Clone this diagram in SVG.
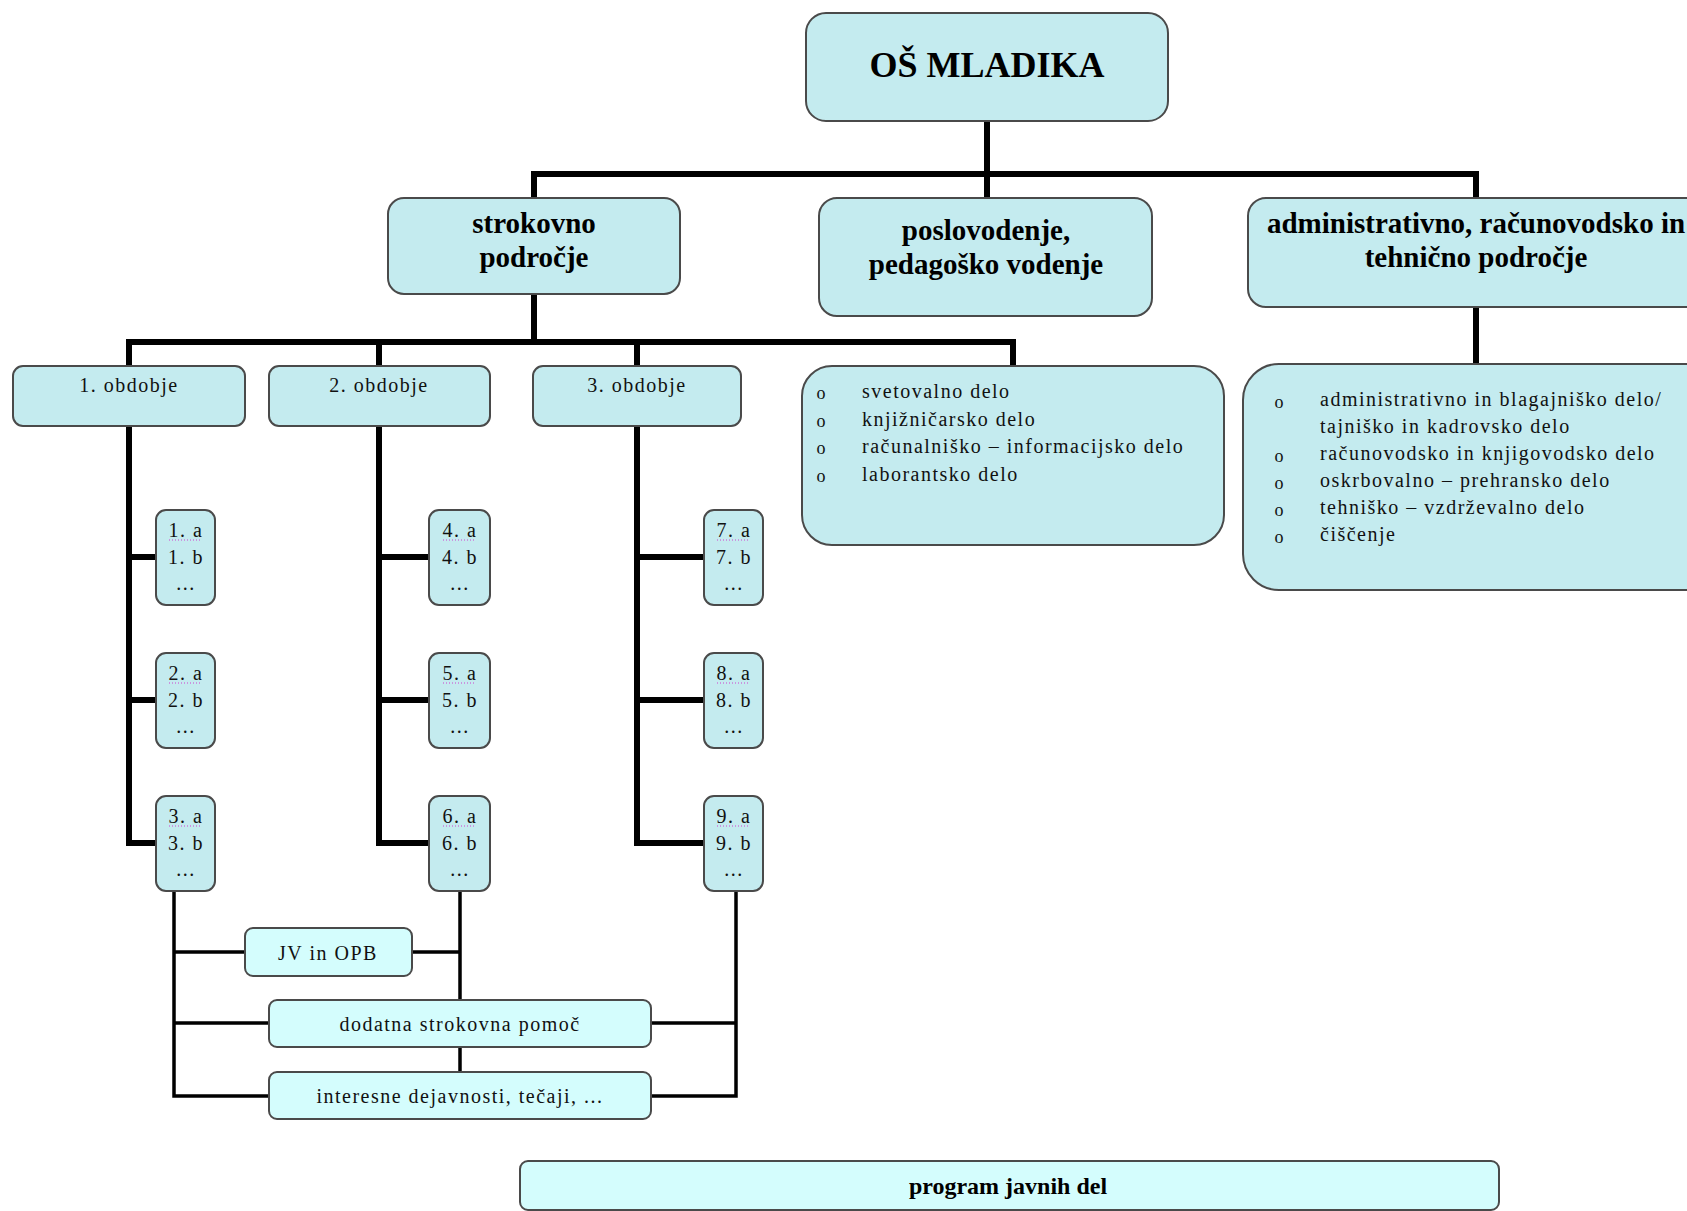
<svg xmlns="http://www.w3.org/2000/svg" width="1687" height="1211" viewBox="0 0 1687 1211">
<style>
.n{fill:#c4ebef;stroke:#4a4a4a;stroke-width:2}
.l{fill:#d4fdfd;stroke:#4a4a4a;stroke-width:2}
.t{font-family:"Liberation Serif","Times New Roman",serif;font-size:20px;letter-spacing:1.5px;fill:#111}
.o{font-family:"Liberation Serif","Times New Roman",serif;font-size:18px;fill:#111;text-anchor:middle}
.b{font-family:"Liberation Serif","Times New Roman",serif;font-weight:bold;fill:#000}
.c{text-anchor:middle}
.k{stroke:#000;stroke-width:6;fill:none;stroke-linecap:square}
.m{stroke:#000;stroke-width:3.5;fill:none}
.sq{stroke:#d040d0;stroke-width:1.2;stroke-dasharray:1 2}
</style>
<g id="connectors">
<path class="k" d="M987 121V198M534 174H1476M534 174V198M1476 174V198"/>
<path class="k" d="M534 294V342M129 342H1013M129 342V366M379 342V366M637 342V366M1013 342V366"/>
<path class="k" d="M1476 307V364"/>
<path class="k" d="M129 426V843M129 557H156M129 700H156M129 843H156"/>
<path class="k" d="M379 426V843M379 557H429M379 700H429M379 843H429"/>
<path class="k" d="M637 426V843M637 557H704M637 700H704M637 843H704"/>
<path class="m" d="M174 891V1096H269M174 952H245M174 1023H269"/>
<path class="m" d="M460 891V1000M412 952H460M460 1047V1072"/>
<path class="m" d="M736 891V1096H651M651 1023H736"/>
</g>
<g id="n-root"><rect class="n" x="806" y="13" width="362" height="108" rx="20"/><text class="b c" x="987" y="77" font-size="36">OŠ MLADIKA</text></g>
<g id="n-strokovno"><rect class="n" x="388" y="198" width="292" height="96" rx="16"/><text class="b c" x="534" y="233" font-size="29">strokovno</text><text class="b c" x="534" y="267" font-size="29">področje</text></g>
<g id="n-poslovodenje"><rect class="n" x="819" y="198" width="333" height="118" rx="18"/><text class="b c" x="986" y="240" font-size="29">poslovodenje,</text><text class="b c" x="986" y="274" font-size="29">pedagoško vodenje</text></g>
<g id="n-admin"><rect class="n" x="1248" y="198" width="456" height="109" rx="18"/><text class="b c" x="1476" y="233" font-size="29">administrativno, računovodsko in</text><text class="b c" x="1476" y="267" font-size="29">tehnično področje</text></g>
<g id="n-o1"><rect class="n" x="13" y="366" width="232" height="60" rx="10"/><text class="t c" x="129" y="392">1. obdobje</text></g>
<g id="n-o2"><rect class="n" x="269" y="366" width="221" height="60" rx="10"/><text class="t c" x="379" y="392">2. obdobje</text></g>
<g id="n-o3"><rect class="n" x="533" y="366" width="208" height="60" rx="10"/><text class="t c" x="637" y="392">3. obdobje</text></g>
<g id="n-svet"><rect class="n" x="802" y="366" width="422" height="179" rx="30"/>
<text class="o" x="821" y="399">o</text><text class="t" x="862" y="398">svetovalno delo</text>
<text class="o" x="821" y="427">o</text><text class="t" x="862" y="426">knjižničarsko delo</text>
<text class="o" x="821" y="454">o</text><text class="t" x="862" y="453">računalniško – informacijsko delo</text>
<text class="o" x="821" y="482">o</text><text class="t" x="862" y="481">laborantsko delo</text></g>
<g id="n-admlist"><rect class="n" x="1243" y="364" width="480" height="226" rx="36"/>
<text class="o" x="1279" y="408">o</text><text class="t" x="1320" y="406">administrativno in blagajniško delo/</text>
<text class="t" x="1320" y="433">tajniško in kadrovsko delo</text>
<text class="o" x="1279" y="462">o</text><text class="t" x="1320" y="460">računovodsko in knjigovodsko delo</text>
<text class="o" x="1279" y="489">o</text><text class="t" x="1320" y="487">oskrbovalno – prehransko delo</text>
<text class="o" x="1279" y="516">o</text><text class="t" x="1320" y="514">tehniško – vzdrževalno delo</text>
<text class="o" x="1279" y="543">o</text><text class="t" x="1320" y="541">čiščenje</text></g>
<g id="n-1"><rect class="n" x="156" y="510" width="59" height="95" rx="10"/><text class="t c" x="186" y="537">1. a</text><line class="sq" x1="169" y1="540" x2="202" y2="540"/><text class="t c" x="186" y="564">1. b</text><text class="t c" x="186" y="590">...</text></g>
<g id="n-2"><rect class="n" x="156" y="653" width="59" height="95" rx="10"/><text class="t c" x="186" y="680">2. a</text><line class="sq" x1="169" y1="683" x2="202" y2="683"/><text class="t c" x="186" y="707">2. b</text><text class="t c" x="186" y="733">...</text></g>
<g id="n-3"><rect class="n" x="156" y="796" width="59" height="95" rx="10"/><text class="t c" x="186" y="823">3. a</text><line class="sq" x1="169" y1="826" x2="202" y2="826"/><text class="t c" x="186" y="850">3. b</text><text class="t c" x="186" y="876">...</text></g>
<g id="n-4"><rect class="n" x="429" y="510" width="61" height="95" rx="10"/><text class="t c" x="460" y="537">4. a</text><line class="sq" x1="443" y1="540" x2="476" y2="540"/><text class="t c" x="460" y="564">4. b</text><text class="t c" x="460" y="590">...</text></g>
<g id="n-5"><rect class="n" x="429" y="653" width="61" height="95" rx="10"/><text class="t c" x="460" y="680">5. a</text><line class="sq" x1="443" y1="683" x2="476" y2="683"/><text class="t c" x="460" y="707">5. b</text><text class="t c" x="460" y="733">...</text></g>
<g id="n-6"><rect class="n" x="429" y="796" width="61" height="95" rx="10"/><text class="t c" x="460" y="823">6. a</text><line class="sq" x1="443" y1="826" x2="476" y2="826"/><text class="t c" x="460" y="850">6. b</text><text class="t c" x="460" y="876">...</text></g>
<g id="n-7"><rect class="n" x="704" y="510" width="59" height="95" rx="10"/><text class="t c" x="734" y="537">7. a</text><line class="sq" x1="717" y1="540" x2="750" y2="540"/><text class="t c" x="734" y="564">7. b</text><text class="t c" x="734" y="590">...</text></g>
<g id="n-8"><rect class="n" x="704" y="653" width="59" height="95" rx="10"/><text class="t c" x="734" y="680">8. a</text><line class="sq" x1="717" y1="683" x2="750" y2="683"/><text class="t c" x="734" y="707">8. b</text><text class="t c" x="734" y="733">...</text></g>
<g id="n-9"><rect class="n" x="704" y="796" width="59" height="95" rx="10"/><text class="t c" x="734" y="823">9. a</text><line class="sq" x1="717" y1="826" x2="750" y2="826"/><text class="t c" x="734" y="850">9. b</text><text class="t c" x="734" y="876">...</text></g>
<g id="n-jv"><rect class="l" x="245" y="928" width="167" height="48" rx="8"/><text class="t c" x="328" y="960">JV in OPB</text></g>
<g id="n-dsp"><rect class="l" x="269" y="1000" width="382" height="47" rx="8"/><text class="t c" x="460" y="1031">dodatna strokovna pomoč</text></g>
<g id="n-int"><rect class="l" x="269" y="1072" width="382" height="47" rx="8"/><text class="t c" x="460" y="1103">interesne dejavnosti, tečaji, ...</text></g>
<g id="n-pjd"><rect class="l" x="520" y="1161" width="979" height="49" rx="8"/><text class="b c" x="1008" y="1194" font-size="24">program javnih del</text></g>
</svg>
